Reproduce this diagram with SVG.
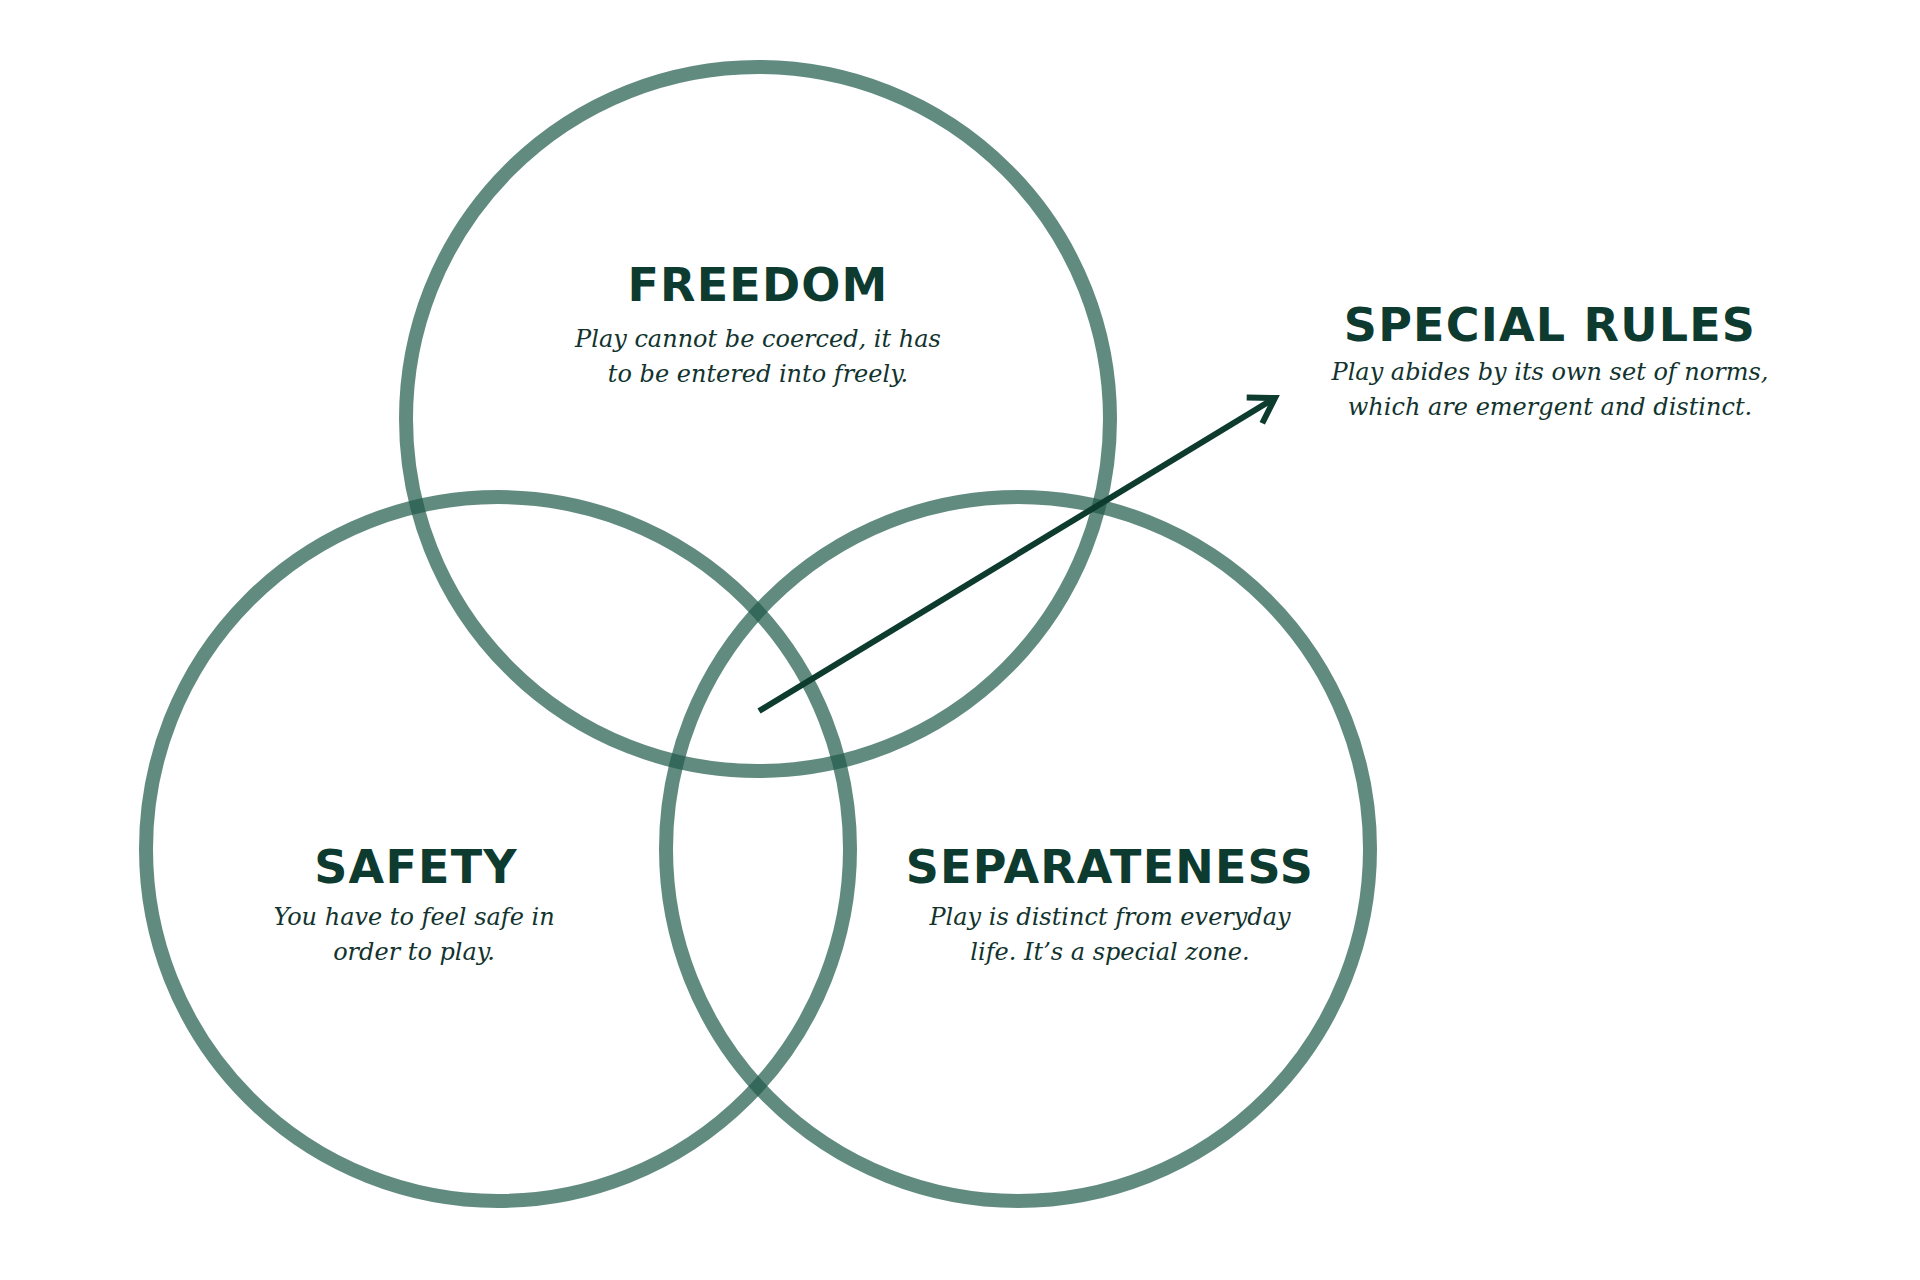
<svg xmlns="http://www.w3.org/2000/svg" width="1920" height="1280" viewBox="0 0 1920 1280">
  <style>
    .ring { fill: none; stroke: #1f5a4a; stroke-opacity: 0.7; stroke-width: 14; }
    .title { font-family: "DejaVu Sans", sans-serif; font-weight: bold; font-size: 46px; letter-spacing: 1.2px; fill: #0e3b2f; text-anchor: middle; }
    .body { font-family: "DejaVu Serif", serif; font-style: italic; font-size: 24px; fill: #12332e; text-anchor: middle; }
    .arrow { fill: none; stroke: #0d3b2e; stroke-width: 6; }
  </style>
  <defs>
    <marker id="chev" markerUnits="userSpaceOnUse" markerWidth="40" markerHeight="40" refX="0" refY="0" viewBox="-30 -20 40 40" orient="auto" overflow="visible">
      <path d="M-24,-15 L0,0 L-24,15" fill="none" stroke="#0d3b2e" stroke-width="6" stroke-linejoin="miter"/>
    </marker>
  </defs>
  <rect width="1920" height="1280" fill="#ffffff"/>

  <g id="freedom">
    <circle class="ring" cx="758" cy="419" r="352"/>
    <text class="title" x="758" y="301">FREEDOM</text>
    <text class="body" x="758" y="347">Play cannot be coerced, it has</text>
    <text class="body" x="758" y="382">to be entered into freely.</text>
  </g>

  <g id="safety">
    <circle class="ring" cx="498" cy="849" r="352"/>
    <text class="title" x="416" y="883">SAFETY</text>
    <text class="body" x="414" y="925">You have to feel safe in</text>
    <text class="body" x="414" y="960">order to play.</text>
  </g>

  <g id="separateness">
    <circle class="ring" cx="1018" cy="849" r="352"/>
    <text class="title" x="1110" y="883">SEPARATENESS</text>
    <text class="body" x="1110" y="925">Play is distinct from everyday</text>
    <text class="body" x="1110" y="960">life. It’s a special zone.</text>
  </g>

  <g id="special-rules">
    <text class="title" x="1550" y="341">SPECIAL RULES</text>
    <text class="body" x="1550" y="380">Play abides by its own set of norms,</text>
    <text class="body" x="1550" y="415">which are emergent and distinct.</text>
  </g>

  <g id="connectors">
    <path class="arrow" d="M759,711 L1275,398" marker-end="url(#chev)"/>
  </g>
</svg>
